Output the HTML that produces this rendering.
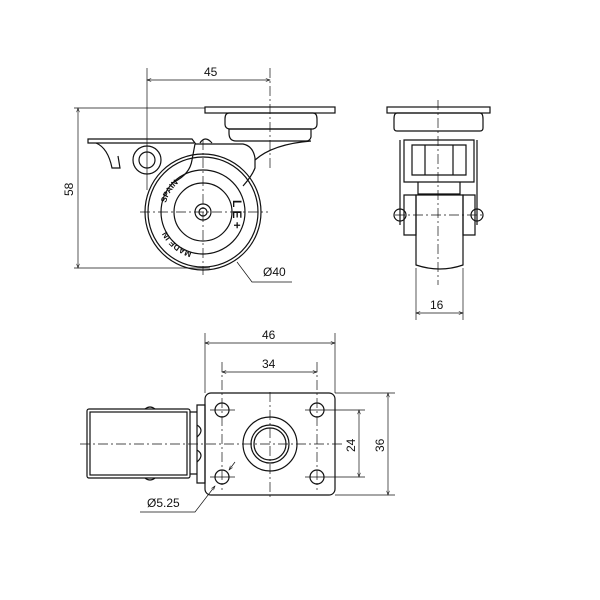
<!DOCTYPE html>
<html><head><style>body{margin:0;background:#fff}svg{display:block}text{font-family:"Liberation Sans",sans-serif;font-size:12px;fill:#111}</style></head>
<body>
<svg width="600" height="600" viewBox="0 0 600 600" xmlns="http://www.w3.org/2000/svg">
<defs><marker id="a" viewBox="0 0 10 10" refX="10" refY="5" markerWidth="8" markerHeight="6" orient="auto-start-reverse"><path d="M0,1.5 L10,5 L0,8.5" fill="none" stroke="#111" stroke-width="1.2"/></marker>
<path id="arc1" d="M166,203 A38,38 0 0 1 195,175"/>
<path id="arc2" d="M192,252 A41,41 0 0 1 162,212"/>
</defs>
<g fill="none" stroke="#111" stroke-width="1.2">
<!-- SIDE VIEW -->
<line x1="147" y1="68" x2="147" y2="190" stroke-width="0.7"/>
<line x1="270" y1="68" x2="270" y2="170" stroke-width="0.7" stroke-dasharray="10,3,2,3"/>
<line x1="147" y1="80" x2="270" y2="80" stroke-width="0.7" marker-start="url(#a)" marker-end="url(#a)"/>
<line x1="74" y1="108" x2="205" y2="108" stroke-width="0.7"/>
<line x1="74" y1="268" x2="210" y2="268" stroke-width="0.7"/>
<line x1="78" y1="108" x2="78" y2="268" stroke-width="0.7" marker-start="url(#a)" marker-end="url(#a)"/>
<rect x="205" y="107" width="130" height="6"/>
<path d="M229,113 h84 q4,0 4,6 v5 q0,4 -4,5 h-84 q-4,-1 -4,-5 v-5 q0,-6 4,-6z"/>
<path d="M229,129 h82 v8 q-1,4 -5,4 h-70 q-7,0 -7,-8z"/>
<path d="M88,139 h104 l3,4 h-107 z"/>
<path d="M96,143 q12,5 16,25 h8 l-2,-12"/>
<circle cx="147" cy="160" r="14"/><circle cx="147" cy="160" r="8"/>
<path d="M195,144 h48 q10,2 12,14 v10 q-3,8 -12,18"/>
<path d="M255,160 q18,-16 56,-19"/>
<path d="M195,144 l-3,16 q-2,14 -18,22"/>
<path d="M200,143 q5,-8 12,0"/>
<circle cx="203" cy="212" r="58"/>
<circle cx="203" cy="212" r="55"/>
<circle cx="203" cy="212" r="42"/>
<circle cx="203" cy="212" r="29"/>
<circle cx="203" cy="212" r="8"/>
<circle cx="203" cy="212" r="4"/>
<line x1="140" y1="212" x2="268" y2="212" stroke-width="0.7" stroke-dasharray="10,3,2,3"/>
<line x1="203" y1="140" x2="203" y2="275" stroke-width="0.7" stroke-dasharray="10,3,2,3"/>
<polyline points="237,262 252,282 292,282" stroke-width="0.7"/>
<!-- FRONT VIEW -->
<rect x="387" y="107" width="103" height="6"/>
<path d="M397,113 h83 q3,0 3,6 v9 q0,3 -3,3 h-83 q-3,0 -3,-3 v-9 q0,-6 3,-6z"/>
<path d="M400,140 v85 M477,140 v85"/>
<path d="M404,140 h70 v42 h-70z"/>
<path d="M412,145 h54 v30 h-54z"/>
<line x1="425" y1="145" x2="425" y2="175"/><line x1="453" y1="145" x2="453" y2="175"/>
<path d="M418,182 v12 h42 v-12"/>
<path d="M416,195 h47 v70 q-23,8 -47,0z"/>
<path d="M404,195 h12 v40 h-12z M463,195 h12 v40 h-12z"/>
<circle cx="400" cy="215" r="6"/><circle cx="477" cy="215" r="6"/>
<line x1="438" y1="100" x2="438" y2="285" stroke-width="0.7" stroke-dasharray="10,3,2,3"/>
<line x1="395" y1="215" x2="482" y2="215" stroke-width="0.7" stroke-dasharray="10,3,2,3"/>
<line x1="416" y1="268" x2="416" y2="320" stroke-width="0.7"/>
<line x1="463" y1="268" x2="463" y2="320" stroke-width="0.7"/>
<line x1="416" y1="313" x2="463" y2="313" stroke-width="0.7" marker-start="url(#a)" marker-end="url(#a)"/>
<!-- TOP VIEW -->
<line x1="205" y1="333" x2="205" y2="393" stroke-width="0.7"/>
<line x1="335" y1="333" x2="335" y2="393" stroke-width="0.7"/>
<line x1="205" y1="343" x2="335" y2="343" stroke-width="0.7" marker-start="url(#a)" marker-end="url(#a)"/>
<line x1="222" y1="362" x2="222" y2="490" stroke-width="0.7" stroke-dasharray="10,3,2,3"/>
<line x1="317" y1="362" x2="317" y2="490" stroke-width="0.7" stroke-dasharray="10,3,2,3"/>
<line x1="222" y1="372" x2="317" y2="372" stroke-width="0.7" marker-start="url(#a)" marker-end="url(#a)"/>
<rect x="205" y="393" width="130" height="102" rx="6"/>
<circle cx="222" cy="410" r="7"/><circle cx="317" cy="410" r="7"/>
<circle cx="222" cy="477" r="7"/><circle cx="317" cy="477" r="7"/>
<line x1="210" y1="410" x2="235" y2="410" stroke-width="0.7"/>
<line x1="305" y1="410" x2="365" y2="410" stroke-width="0.7"/>
<line x1="210" y1="477" x2="235" y2="477" stroke-width="0.7"/>
<line x1="305" y1="477" x2="365" y2="477" stroke-width="0.7"/>
<line x1="335" y1="393" x2="395" y2="393" stroke-width="0.7"/>
<line x1="335" y1="495" x2="395" y2="495" stroke-width="0.7"/>
<line x1="388" y1="393" x2="388" y2="495" stroke-width="0.7" marker-start="url(#a)" marker-end="url(#a)"/>
<line x1="359" y1="410" x2="359" y2="477" stroke-width="0.7" marker-start="url(#a)" marker-end="url(#a)"/>
<circle cx="270" cy="444" r="27"/><circle cx="270" cy="444" r="19"/><circle cx="270" cy="444" r="16"/>
<line x1="80" y1="444" x2="345" y2="444" stroke-width="0.7" stroke-dasharray="10,3,2,3"/>
<line x1="270" y1="392" x2="270" y2="500" stroke-width="0.7" stroke-dasharray="10,3,2,3"/>
<rect x="87" y="409" width="103" height="69" rx="2"/>
<rect x="90" y="412" width="97" height="63"/>
<path d="M190,412 h7 v62 h-7 M197,405 h8 v78 h-8z"/>
<path d="M197,425 q8,5 0,12 M197,450 q8,5 0,12"/>
<path d="M145,409 q5,-4 10,0 M145,478 q5,4 10,0"/>
<line x1="235" y1="462" x2="229" y2="470" stroke-width="0.7" marker-end="url(#a)"/>
<polyline points="215,486 195,512 140,512" stroke-width="0.7" marker-start="url(#a)"/>
</g>
<text x="204" y="76">45</text>
<text x="0" y="0" transform="translate(73,196) rotate(-90)">58</text>
<text x="263" y="276">Ø40</text>
<text x="430" y="309">16</text>
<text x="262" y="339">46</text>
<text x="262" y="368">34</text>
<text x="0" y="0" transform="translate(384,452) rotate(-90)">36</text>
<text x="0" y="0" transform="translate(355,452) rotate(-90)">24</text>
<text x="147" y="507">Ø5.25</text>
<text style="font-size:8px;font-weight:bold"><textPath href="#arc1">SPAIN</textPath></text>
<text style="font-size:8px;font-weight:bold"><textPath href="#arc2">MADE IN</textPath></text>
<text x="0" y="0" transform="translate(233,200) rotate(90)" style="font-size:12px;font-weight:bold">L E +</text>
</svg>
</body></html>
